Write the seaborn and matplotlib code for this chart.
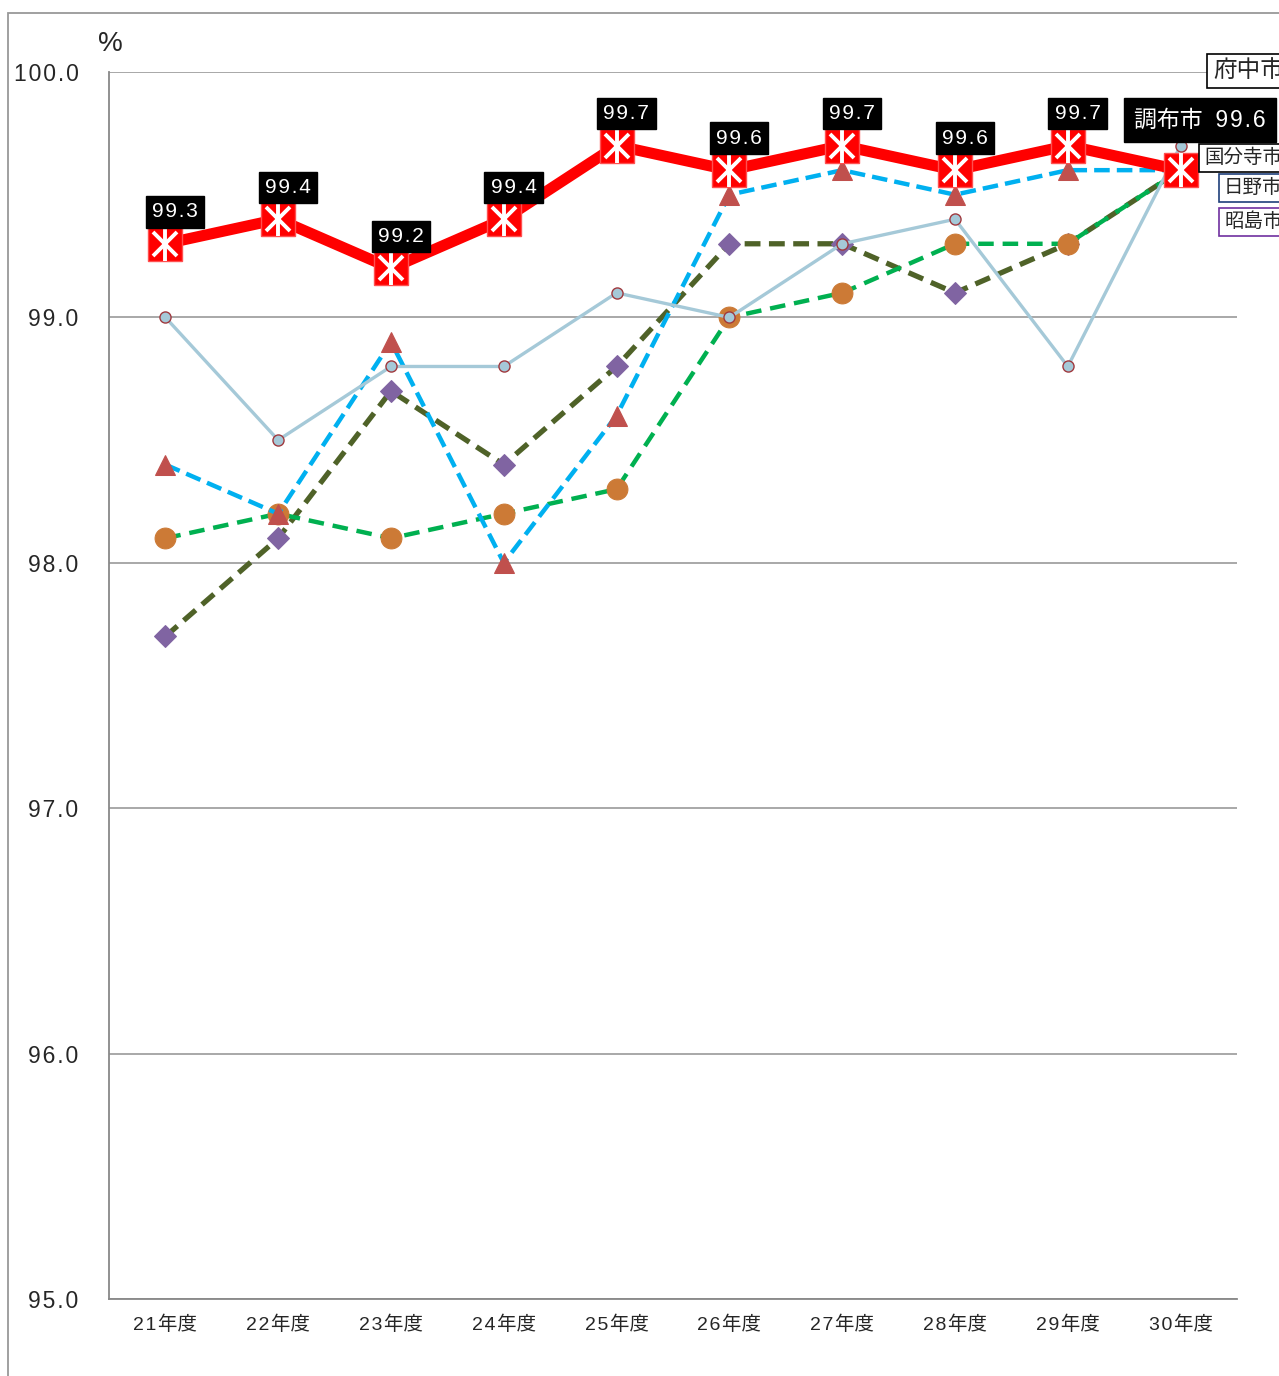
import matplotlib
matplotlib.use("Agg")
import matplotlib.pyplot as plt
import matplotlib.patches as mpatches
import numpy as np
import pandas as pd
import seaborn as sns

years = ['21年度', '22年度', '23年度', '24年度', '25年度',
         '26年度', '27年度', '28年度', '29年度', '30年度']
chofu = [99.3, 99.4, 99.2, 99.4, 99.7, 99.6, 99.7, 99.6, 99.7, 99.6]
fuchu = [99.0, 98.5, 98.8, 98.8, 99.1, 99.0, 99.3, 99.4, 98.8, 99.7]
kokubunji = [98.4, 98.2, 98.9, 98.0, 98.6, 99.5, 99.6, 99.5, 99.6, 99.6]
hino = [98.1, 98.2, 98.1, 98.2, 98.3, 99.0, 99.1, 99.3, 99.3, 99.6]
akishima = [97.7, 98.1, 98.7, 98.4, 98.8, 99.3, 99.3, 99.1, 99.3, 99.6]
yticks = [95, 96, 97, 98, 99, 100]

sns.set_style("white")
plt.rcParams['font.family'] = ['Liberation Sans', 'Noto Sans CJK JP', 'DejaVu Sans']

HS = '\u200a'  # hair space, for the wide letter spacing of the original


def spaced(s):
    out = ''
    for i, ch in enumerate(s):
        out += ch
        if i < len(s) - 1 and ch.isascii() and s[i + 1].isascii():
            out += HS
    return out


fig = plt.figure(figsize=(12.79, 13.76), dpi=100)
ax = fig.add_axes([109 / 1279, 77 / 1376, 1128 / 1279, 1227 / 1376])

x = np.arange(len(years))
df = pd.DataFrame({'x': x, 'chofu': chofu, 'fuchu': fuchu, 'kokubunji': kokubunji,
                   'hino': hino, 'akishima': akishima})

# other cities
sns.lineplot(data=df, x='x', y='akishima', ax=ax, color='#4f6228', linewidth=3.8,
             linestyle=(0, (3.0, 1.6)), marker='D', markersize=11,
             markerfacecolor='#8064a2', markeredgecolor='#8064a2', zorder=3)
sns.lineplot(data=df, x='x', y='hino', ax=ax, color='#00b050', linewidth=3.2,
             linestyle=(0, (3.5, 2.0)), marker='o', markersize=15,
             markerfacecolor='#cc7a36', markeredgecolor='#cc7a36', zorder=3)
sns.lineplot(data=df, x='x', y='kokubunji', ax=ax, color='#00b0f0', linewidth=3.2,
             linestyle=(0, (3.5, 1.6)), marker='^', markersize=15,
             markerfacecolor='#c0504d', markeredgecolor='#c0504d', zorder=4)
sns.lineplot(data=df, x='x', y='fuchu', ax=ax, color='#a5c9d8', linewidth=2.4,
             marker='o', markersize=8, markerfacecolor='#a5c9d8',
             markeredgecolor='#a0393e', markeredgewidth=1.0, zorder=5)

# Chofu (highlighted)
sns.lineplot(data=df, x='x', y='chofu', ax=ax, color='#ff0000', linewidth=8,
             marker='s', markersize=25, markerfacecolor='#ff0000',
             markeredgecolor='#ff5050', markeredgewidth=1, zorder=6)
ax.plot(x, chofu, linestyle='none', marker='x', markersize=17, markeredgecolor='white',
        markeredgewidth=2.8, zorder=7)
ax.plot(x, chofu, linestyle='none', marker='|', markersize=24, markeredgecolor='white',
        markeredgewidth=2.8, zorder=7)

for i, v in enumerate(chofu[:-1]):
    ax.annotate(spaced(f'{v:.1f}'), xy=(i, v), xytext=(7, 23),
                textcoords='offset points', ha='center', va='center', color='white',
                fontsize=15, bbox=dict(boxstyle='square,pad=0.3', fc='black', ec='black'),
                zorder=8)
ax.annotate('調布市  ' + spaced(f'{chofu[-1]:.1f}'), xy=(len(chofu) - 1, chofu[-1]),
            xytext=(14, 36), textcoords='offset points', ha='center', va='center',
            color='white', fontsize=16.5,
            bbox=dict(boxstyle='square,pad=0.45', fc='black', ec='black'),
            zorder=8, annotation_clip=False)

ax.set_xlim(-0.5, 9.5)
ax.set_ylim(95.0, 100.0)
ax.set_yticks(yticks)
ax.set_yticklabels([spaced(f'{t:.1f}') for t in yticks], fontsize=16.5)
ax.set_xticks(x)
ax.set_xticklabels([spaced(y[:2]) + HS + y[2:] for y in years], fontsize=14)
ax.set_xticks(np.arange(-0.5, 10, 1), minor=True)
ax.tick_params(axis='x', which='major', length=0, pad=12)
ax.tick_params(axis='x', which='minor', length=6, color='#888888', direction='out')
ax.tick_params(axis='y', length=6, color='#888888', direction='out', pad=16)
ax.grid(axis='y', color='#999999', linewidth=1.2)
ax.set_axisbelow(True)
ax.set_xlabel('')
ax.set_ylabel('')
for s in ['top', 'right']:
    ax.spines[s].set_visible(False)
for s in ['left', 'bottom']:
    ax.spines[s].set_color('#888888')
    ax.spines[s].set_linewidth(1.3)

fig.text(98 / 1279, 1 - 44 / 1376, '%', fontsize=20, ha='left', va='center')

# outer frame
fig.add_artist(mpatches.Rectangle((8 / 1279, -0.01), 1.1, 1 - 13 / 1376 + 0.01,
                                  transform=fig.transFigure, fill=False,
                                  edgecolor='#999999', linewidth=1.3))

# city labels on the right
labels = [('府中市', 71, 1213, 'black', 17),
          ('国分寺市', 158, 1204, 'black', 14),
          ('日野市', 188, 1224, '#1f3f7a', 14),
          ('昭島市', 222, 1224, '#7030a0', 14)]
for name, yy, xx, ec, fs in labels:
    fig.text(xx / 1279, 1 - yy / 1376, name, fontsize=fs, ha='left', va='center',
             bbox=dict(boxstyle='square,pad=0.25', fc='white', ec=ec, lw=1.2), zorder=10)

fig.savefig('out.png', dpi=100)
